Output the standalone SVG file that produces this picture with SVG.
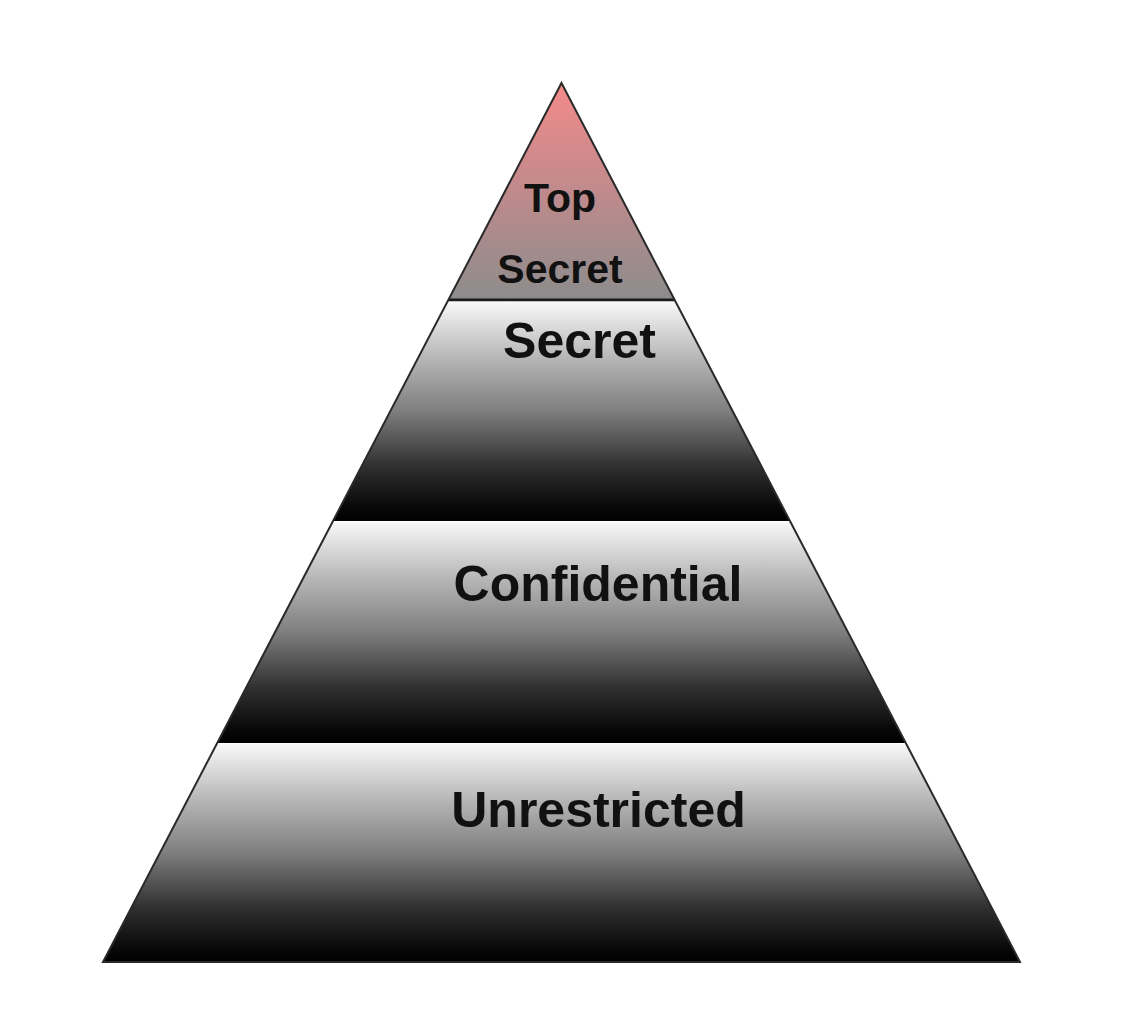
<svg xmlns="http://www.w3.org/2000/svg" width="1122" height="1036" viewBox="0 0 1122 1036">
  <defs>
    <linearGradient id="gTop" x1="0" y1="0" x2="0" y2="1">
      <stop offset="0" stop-color="#f48a8a"/>
      <stop offset="0.5" stop-color="#c08a8c"/>
      <stop offset="1" stop-color="#8c8c8c"/>
    </linearGradient>
    <linearGradient id="gGray" x1="0" y1="0" x2="0" y2="1">
      <stop offset="0" stop-color="#f8f8f8"/>
      <stop offset="0.25" stop-color="#b8b8b8"/>
      <stop offset="0.5" stop-color="#7e7e7e"/>
      <stop offset="0.75" stop-color="#303030"/>
      <stop offset="0.93" stop-color="#0a0a0a"/>
      <stop offset="1" stop-color="#000000"/>
    </linearGradient>
    <style>
      .lbl { font-family: "Liberation Sans", Arial, sans-serif; font-weight: bold; fill: #111; text-anchor: middle; }
      .big { font-size: 50px; }
      .small { font-size: 41px; }
      .div { stroke: #1a1a1a; stroke-width: 3; }
    </style>
  </defs>
  <rect width="1122" height="1036" fill="#ffffff"/>
  <g id="top-secret">
    <polygon points="561.5,83 674.7,300 448.3,300" fill="url(#gTop)"/>
    <line class="div" x1="448.3" y1="300" x2="674.7" y2="300"/>
    <text class="lbl small" x="560" y="212">Top</text>
    <text class="lbl small" x="560" y="283">Secret</text>
  </g>
  <g id="secret">
    <polygon points="448.3,301.5 674.7,301.5 790,521 333,521" fill="url(#gGray)"/>
    <text class="lbl big" x="579.5" y="358">Secret</text>
  </g>
  <g id="confidential">
    <polygon points="333,522 790,522 905.8,743 217.2,743" fill="url(#gGray)"/>
    <text class="lbl big" x="598" y="601">Confidential</text>
  </g>
  <g id="unrestricted">
    <polygon points="217.2,744 905.8,744 1020,962 103,962" fill="url(#gGray)"/>
    <text class="lbl big" x="598.5" y="827">Unrestricted</text>
  </g>
  <g id="outline">
    <polygon points="561.5,83 1020,962 103,962" fill="none" stroke="#2a2a2a" stroke-width="2"/>
  </g>
</svg>
